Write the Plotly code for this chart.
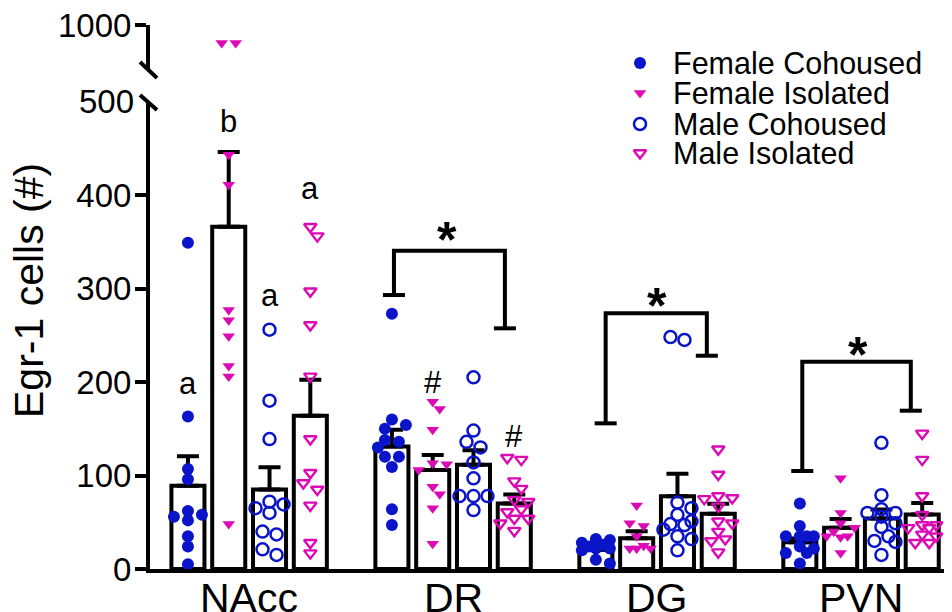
import plotly.graph_objects as go

# ---------------- data ----------------
regions = ["NAcc", "DR", "DG", "PVN"]
series_names = ["Female Cohoused", "Female Isolated", "Male Cohoused", "Male Isolated"]

mean_fc = [89, 131, 20.6, 28.7]
sem_fc = [31.5, 18, 2.5, 4]
mean_fi = [366, 106, 33, 44]
sem_fi = [80, 16, 7.4, 9.6]
mean_mc = [85, 111.6, 77.8, 54]
sem_mc = [23.8, 15.4, 24.2, 9.6]
mean_mi = [164, 70, 59, 58.2]
sem_mi = [38.5, 9.6, 10.7, 12.5]

fc_nacc = [349, 163, 107, 96, 62, 56, 58, 52, 35, 24, 5]
fc_dr = [273, 160, 154, 150, 138, 136, 130, 120, 120, 109, 64, 47]
fc_dg = [32, 31, 28, 26, 24, 22, 22, 20, 10, 6]
fc_pvn = [70, 46, 35, 35, 35, 35, 24, 22, 17, 17, 6]

fi_nacc = [900, 900, 443, 411, 277, 266, 249, 217, 206, 48]
fi_dr = [179, 171, 149, 113, 112, 106, 88, 80, 65, 27]
fi_dg = [68, 49, 46, 35, 25, 22, 22, 22]
fi_pvn = [97, 60, 49, 44, 40, 35, 35, 34, 17]

mc_nacc = [256, 180, 139, 72, 69, 65, 60, 40, 37, 21, 15]
mc_dr = [205, 148, 136, 130, 114, 97, 78, 78, 78, 63]
mc_dg = [248, 245, 71, 65, 58, 51, 48, 47, 42, 35, 32, 20]
mc_pvn = [135, 79, 64, 60, 60, 56, 49, 45, 35, 30, 29, 15]

mi_nacc = [366, 356, 297, 261, 206, 139, 103, 92, 85, 68, 28, 17]
mi_dr = [119, 117, 94, 86, 74, 72, 64, 61, 54, 54, 49, 41]
mi_dg = [128, 101, 78, 76, 75, 67, 51, 49, 40, 32, 30, 18]
mi_pvn = [145, 117, 78, 58, 47, 47, 44, 44, 37, 35, 28, 28]

y_ticks = [0, 100, 200, 300, 400]

# ---------------- layout geometry (page pixels; page body has an 8px margin) ----------------
OFF = 8
W, H = 952 - OFF, 612 - OFF
PLOT_L, PLOT_R, PLOT_T, PLOT_B = 150, 952, 20, 569   # page pixels
ML, MR, MT, MB = PLOT_L - OFF, (W + OFF) - PLOT_R, PLOT_T - OFF, (H + OFF) - PLOT_B
PW, PH = W - ML - MR, H - MT - MB
X0, X1 = -2.43, 17.23
PXX = PW / (X1 - X0)
LOW_TOP_PX = 101.5
LOW_PX_PER = (PLOT_B - LOW_TOP_PX) / 500.0
UP_BOT_PX, UP_TOP_PX = 70.0, 25.0
UP_RANGE = [750, 1000]
FONT = "Liberation Sans, Arial, sans-serif"
BLUE = "#0a14c8"
MAG = "#dc0ab4"


def xp(px):
    return (px - PLOT_L) / PW


def yp(py):
    return (PLOT_B - py) / PH


def ypix(v):
    if v <= 500:
        return PLOT_B - v * LOW_PX_PER
    return UP_BOT_PX - (v - UP_RANGE[0]) / (UP_RANGE[1] - UP_RANGE[0]) * (UP_BOT_PX - UP_TOP_PX)


def swarm(vals, d=10.0, step=7.0, maxoff=15.0):
    order = sorted(range(len(vals)), key=lambda i: -vals[i])
    placed = []
    offs = [0.0] * len(vals)
    cands = [0.0]
    j = 1
    while j * step <= maxoff:
        cands += [j * step, -j * step]
        j += 1
    for i in order:
        y = ypix(vals[i])
        best, bestd = None, -1
        for c in cands:
            md = min([((c - px) ** 2 + (y - py) ** 2) ** 0.5 for px, py in placed] or [1e9])
            if md >= d:
                best = c
                break
            if md > bestd + 0.5:
                best, bestd = c, md
        placed.append((best, y))
        offs[i] = best
    ys = [ypix(v) for v in vals]
    idx = sorted(range(len(vals)), key=lambda i: ys[i])
    clusters, cur = [], [idx[0]] if idx else []
    for a, b in zip(idx, idx[1:]):
        if ys[b] - ys[a] < d:
            cur.append(b)
        else:
            clusters.append(cur)
            cur = [b]
    if cur:
        clusters.append(cur)
    for cl in clusters:
        if len(cl) > 1:
            m = sum(offs[i] for i in cl) / len(cl)
            m = round(m / step) * step
            for i in cl:
                offs[i] -= m
    return offs


centers = [0, 5, 10, 15]
bar_off = [-1.5, -0.5, 0.5, 1.5]

means = [mean_fc, mean_fi, mean_mc, mean_mi]
sems = [sem_fc, sem_fi, sem_mc, sem_mi]
points = [
    [fc_nacc, fc_dr, fc_dg, fc_pvn],
    [fi_nacc, fi_dr, fi_dg, fi_pvn],
    [mc_nacc, mc_dr, mc_dg, mc_pvn],
    [mi_nacc, mi_dr, mi_dg, mi_pvn],
]
markers = [
    dict(symbol="circle", size=12, color=BLUE),
    dict(symbol="triangle-down", size=11, color=MAG),
    dict(symbol="circle-open", size=12, color=BLUE, line=dict(width=2.5, color=BLUE)),
    dict(symbol="triangle-down-open", size=11, color=MAG, line=dict(width=2.4, color=MAG)),
]

fig = go.Figure()

for s in range(4):
    fig.add_trace(go.Bar(
        x=[c + bar_off[s] for c in centers], y=means[s], width=0.81,
        marker=dict(color="white", line=dict(color="black", width=4)),
        error_y=dict(type="data", array=sems[s], arrayminus=[0] * 4, symmetric=False,
                     thickness=4, width=11, color="black"),
        showlegend=False, hoverinfo="skip", xaxis="x", yaxis="y",
    ))

for s in range(4):
    lx, ly, ux, uy = [], [], [], []
    for g in range(4):
        vals = points[s][g]
        offs = swarm(vals)
        for v, o in zip(vals, offs):
            xv = centers[g] + bar_off[s] + o / PXX
            if v <= 500:
                lx.append(xv); ly.append(v)
            else:
                ux.append(xv); uy.append(v)
    fig.add_trace(go.Scatter(x=lx, y=ly, mode="markers", marker=markers[s],
                             showlegend=False, xaxis="x", yaxis="y", cliponaxis=False))
    if ux:
        fig.add_trace(go.Scatter(x=ux, y=uy, mode="markers", marker=markers[s],
                                 showlegend=False, xaxis="x", yaxis="y2", cliponaxis=False))

# manual legend (markers on an invisible page-pixel subplot)
leg_rows = [63, 93, 124, 153]
for s in range(4):
    fig.add_trace(go.Scatter(x=[640], y=[leg_rows[s]], mode="markers", marker=markers[s],
                             showlegend=False, xaxis="x3", yaxis="y3", cliponaxis=False))

ann = []
for s in range(4):
    ann.append(dict(x=xp(671), y=yp(leg_rows[s]), xref="paper", yref="paper",
                    text=series_names[s], showarrow=False, xanchor="left", yanchor="middle",
                    font=dict(family=FONT, size=30.5, color="black")))

# category labels (placed as text under the axis)
for c, r in zip(centers, regions):
    ann.append(dict(x=c, y=yp(598), xref="x", yref="paper", text=r, showarrow=False,
                    xanchor="center", yanchor="middle",
                    font=dict(family=FONT, size=41, color="black")))

# significance letters / symbols
letters = [("a", -1.5, 198), ("b", -0.5, 479), ("a", 0.5, 293), ("a", 1.5, 407),
           ("#", 4.5, 200), ("#", 6.5, 141.5)]
for t, x, y in letters:
    ann.append(dict(x=x, y=y, xref="x", yref="y", text=t, showarrow=False,
                    xanchor="center", yanchor="middle",
                    font=dict(family=FONT, size=31, color="black")))

# brackets: (x_left, x_right, y_top, y_left_bottom, y_right_bottom, star_x, star_y)
brackets = [
    (3.55, 6.27, 340.4, 293.0, 257.4, 4.84, 352),
    (8.74, 11.22, 273.5, 155.8, 228.1, 10.0, 281),
    (13.56, 16.22, 221.7, 104.8, 169.3, 14.93, 229),
]
shapes = []
cap = 0.27
for xl, xr, yt, ybl, ybr, sx, sy in brackets:
    path = f"M {xl},{ybl} L {xl},{yt} L {xr},{yt} L {xr},{ybr}"
    shapes.append(dict(type="path", path=path, xref="x", yref="y",
                       line=dict(color="black", width=4)))
    shapes.append(dict(type="line", x0=xl - cap, x1=xl + cap, y0=ybl, y1=ybl, xref="x", yref="y",
                       line=dict(color="black", width=4)))
    shapes.append(dict(type="line", x0=xr - cap, x1=xr + cap, y0=ybr, y1=ybr, xref="x", yref="y",
                       line=dict(color="black", width=4)))
    ann.append(dict(x=sx, y=sy, xref="x", yref="y", text="<b>*</b>", showarrow=False,
                    xanchor="center", yanchor="middle",
                    font=dict(family=FONT, size=50, color="black")))

# axis break slashes
for (x0, y0, x1, y1) in [(140, 62, 157, 78), (140, 95, 157, 110)]:
    shapes.append(dict(type="line", x0=xp(x0), y0=yp(y0), x1=xp(x1), y1=yp(y1),
                       xref="paper", yref="paper", line=dict(color="black", width=4)))

# "500" label at break
ann.append(dict(x=xp(136), y=500, xref="paper", yref="y", text="500", showarrow=False,
                xanchor="right", yanchor="middle", font=dict(family=FONT, size=33, color="black")))

# y title
ann.append(dict(x=xp(29), y=yp(290), xref="paper", yref="paper", text="Egr-1 cells (#)",
                textangle=-90, showarrow=False, xanchor="center", yanchor="middle",
                font=dict(family=FONT, size=41, color="black")))

axis_common = dict(showgrid=False, zeroline=False, showline=True, linecolor="black", linewidth=4,
                   ticks="outside", ticklen=11, tickwidth=4, tickcolor="black", automargin=False,
                   ticklabeloverflow="allow", ticklabelstandoff=-3,
                   tickfont=dict(family=FONT, size=33, color="black"))

fig.update_layout(
    width=W, height=H,
    margin=dict(l=ML, r=MR, t=MT, b=MB, autoexpand=False),
    paper_bgcolor="white", plot_bgcolor="rgba(0,0,0,0)",
    barmode="overlay",
    showlegend=False,
    xaxis=dict(domain=[0, 1], range=[X0, X1], anchor="y", showgrid=False, zeroline=False,
               showline=True, linecolor="black", linewidth=4, ticks="",
               tickvals=centers, ticktext=[""] * 4, automargin=False),
    yaxis=dict(domain=[0, yp(LOW_TOP_PX)], range=[0, 500], anchor="x",
               tickvals=y_ticks, **axis_common),
    yaxis2=dict(domain=[yp(UP_BOT_PX), yp(UP_TOP_PX)], range=UP_RANGE, anchor="x",
                tickvals=[1000], **axis_common),
    xaxis3=dict(domain=[0, 1], range=[PLOT_L, PLOT_R], anchor="y3", visible=False, automargin=False),
    yaxis3=dict(domain=[0, 1], range=[PLOT_B, PLOT_T], anchor="x3", visible=False, automargin=False),
    shapes=shapes,
    annotations=ann,
)

fig.write_html("out.html")
